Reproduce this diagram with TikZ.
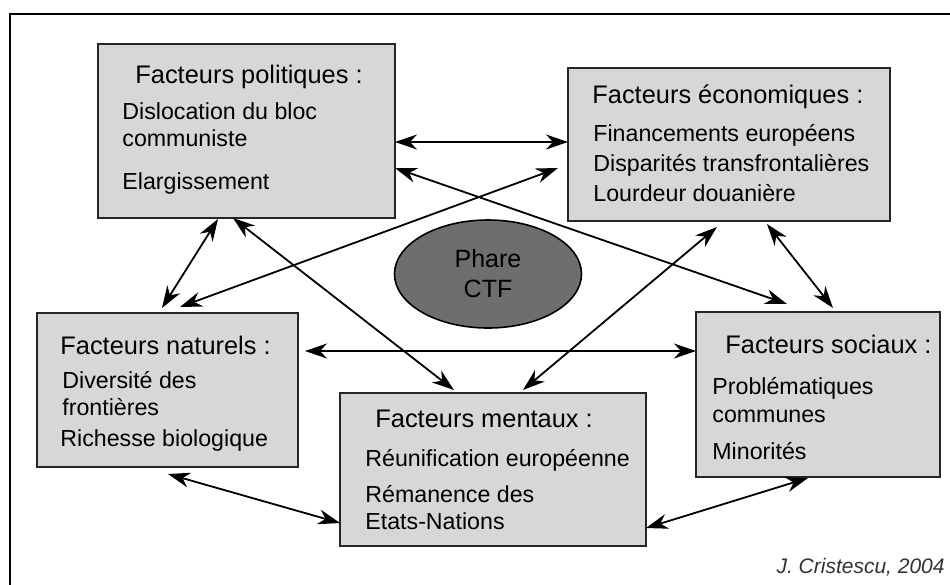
\documentclass[tikz,border=0pt]{standalone}
\usepackage{fontspec}
\setmainfont{Liberation Sans}
\usepackage{xcolor}
\usetikzlibrary{arrows.meta,shapes.geometric}
\definecolor{boxgray}{HTML}{D7D7D7}
\definecolor{ctfgray}{HTML}{6E6E6E}

\begin{document}
\begin{tikzpicture}[x=0.5pt,y=-0.5pt,
  factor/.style={draw=black!85,line width=1pt,fill=boxgray,inner sep=0pt,outer sep=0pt},
  title/.style={anchor=base west,inner sep=0pt,font=\fontsize{12.7}{15}\selectfont},
  item/.style={anchor=base west,inner sep=0pt,font=\fontsize{11.6}{14}\selectfont},
  link/.style={line width=0.9pt,{Stealth[length=11pt,width=7.5pt,inset=3.5pt]}-{Stealth[length=11pt,width=7.5pt,inset=3.5pt]}}]
\useasboundingbox (0,0) rectangle (950,585);
\draw[line width=1pt] (950,14) -- (10,14) -- (10,585);
% boxes
\node[factor,minimum width=148.5pt,minimum height=87pt] (pol) at (246.5,131) {};
\node[factor,minimum width=161pt,minimum height=76.5pt] (eco) at (729,144.5) {};
\node[factor,minimum width=130.5pt,minimum height=77pt] (nat) at (167.5,390) {};
\node[factor,minimum width=153pt,minimum height=76.5pt] (men) at (493,469.5) {};
\node[factor,minimum width=122pt,minimum height=82.5pt] (soc) at (818,394.5) {};
\node[ellipse,draw=black,line width=0.8pt,fill=ctfgray,minimum width=93.5pt,minimum height=54pt,
  align=center,font=\fontsize{12.5}{15}\selectfont] (ctf) at (488,274) {Phare\\CTF};
% texts
\node[title] (polT) at (135,83) {Facteurs politiques :};
\node[item] (pol1) at (122,119) {Dislocation du bloc};
\node[item] (pol2) at (122,146) {communiste};
\node[item] (pol3) at (122,189) {Elargissement};
\node[title] (ecoT) at (592,103) {Facteurs économiques :};
\node[item] (eco1) at (593,141) {Financements européens};
\node[item] (eco2) at (593,171) {Disparités transfrontalières};
\node[item] (eco3) at (593,201) {Lourdeur douanière};
\node[title] (natT) at (60,354) {Facteurs naturels :};
\node[item] (nat1) at (62,388) {Diversité des};
\node[item] (nat2) at (62,415) {frontières};
\node[item] (nat3) at (60,446) {Richesse biologique};
\node[title] (menT) at (375,427) {Facteurs mentaux :};
\node[item] (men1) at (365,466) {Réunification européenne};
\node[item] (men2) at (365,502) {Rémanence des};
\node[item] (men3) at (365,529) {Etats-Nations};
\node[title] (socT) at (725,353) {Facteurs sociaux :};
\node[item] (soc1) at (712,394) {Problématiques};
\node[item] (soc2) at (712,422) {communes};
\node[item] (soc3) at (712,459) {Minorités};
\node[anchor=base east,inner sep=0pt,font=\fontsize{10.5}{12}\selectfont\itshape,text=black!80] (credit) at (945,573) {J. Cristescu, 2004};
% links
\draw[link] ([shift={(0,11)}]pol.east) -- ([shift={(0,-2.5)}]eco.west);
\draw[link] ([shift={(0,37)}]pol.east) -- ([shift={(-31,-8)}]soc.north);
\draw[link] ([shift={(12.5,-6)}]nat.north) -- ([shift={(-10,23.5)}]eco.west);
\draw[link] ([shift={(-28.5,1)}]pol.south) -- ([shift={(-5.5,-5)}]nat.north);
\draw[link] ([shift={(-13.5,0)}]pol.south) -- ([shift={(-39,-3)}]men.north);
\draw[link] ([shift={(-12,6)}]eco.south) -- ([shift={(30,-3)}]men.north);
\draw[link] ([shift={(38,3)}]eco.south) -- ([shift={(15,-4)}]soc.north);
\draw[link] ([shift={(7,-39)}]nat.east) -- ([shift={(0,-43.5)}]soc.west);
\draw[link] ([shift={(0.5,7)}]nat.south) -- ([shift={(0,53.5)}]men.west);
\draw[link] ([shift={(-10,1)}]soc.south) -- ([shift={(0,58.5)}]men.east);
\end{tikzpicture}
\end{document}
